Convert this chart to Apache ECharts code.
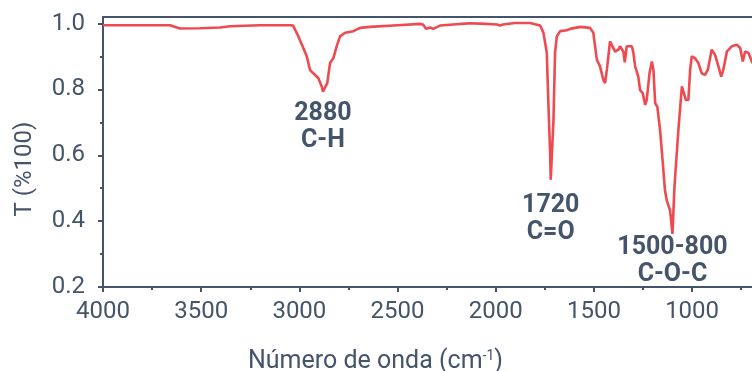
<!DOCTYPE html>
<html>
<head>
<meta charset="utf-8">
<script src="https://cdn.jsdelivr.net/npm/echarts@6/dist/echarts.min.js"></script>
<style>html,body{margin:0;padding:0;background:#fff}#c{width:752px;height:371px}</style>
</head>
<body>
<div id="c"></div>
<script>
// Wavenumber (cm-1) and transmittance
var wavenumbers = [4000,3800,3659,3608,3506,3404,3353,3200,3048,3032,3005,2980,2962,2946,2929,2903,2886,2880,2858,2844,2827,2810,2793,2767,2725,2691,2640,2500,2385,2370,2355,2334,2319,2284,2200,2156,2146,2131,2080,1993,1978,1963,1902,1825,1800,1774,1757,1740,1732,1723,1720,1706,1698,1689,1672,1638,1621,1570,1520,1503,1485,1469,1452,1443,1434,1418,1409,1392,1375,1367,1350,1343,1333,1307,1299,1290,1274,1265,1251,1239,1231,1217,1205,1197,1188,1177,1163,1149,1138,1129,1112,1100,1090,1070,1052,1044,1032,1019,1010,1002,985,968,951,934,920,900,883,866,852,841,823,798,772,755,742,730,713,696,680];
var transmittance = [0.995,0.995,0.995,0.985,0.986,0.988,0.992,0.995,0.995,0.994,0.961,0.926,0.900,0.859,0.849,0.834,0.809,0.793,0.819,0.880,0.895,0.931,0.961,0.972,0.977,0.987,0.990,0.995,0.999,0.997,0.984,0.988,0.984,0.994,0.998,1.000,1.006,1.001,1.000,0.997,0.994,0.997,1.002,1.002,0.998,0.994,0.972,0.911,0.759,0.606,0.526,0.707,0.911,0.961,0.977,0.980,0.984,0.990,0.987,0.972,0.890,0.870,0.829,0.819,0.860,0.946,0.949,0.915,0.921,0.931,0.915,0.882,0.931,0.931,0.911,0.870,0.839,0.798,0.788,0.753,0.768,0.849,0.885,0.860,0.758,0.747,0.676,0.575,0.493,0.463,0.432,0.361,0.503,0.676,0.809,0.814,0.768,0.768,0.860,0.900,0.895,0.880,0.849,0.844,0.860,0.921,0.905,0.870,0.839,0.860,0.915,0.931,0.936,0.926,0.885,0.915,0.911,0.885,0.870];

var xTickLabels = [4000,3500,3000,2500,2000,1500,1000];
var xMinorTicks = [3750,3250,2750,2250,1750,1250,750];
var yTickLabels = [0.2,0.4,0.6,0.8,1.0];
var yMinorTicks = [0.3,0.5,0.7,0.9];

var peakWavenumbers = [2880,1720,1100];
var peakValues = [0.793,0.526,0.361];
var peakTexts = ['2880\nC-H','1720\nC=O','1500-800\nC-O-C'];
var peakLabelGaps = [9,13,0];

var INK = '#44546a';
var RED = '#ee4a50';
var FONT = 'Roboto, "Noto Sans", sans-serif';

var seriesData = wavenumbers.map(function(w,i){return [w, transmittance[i]];});
var markData = peakWavenumbers.map(function(w,i){
  return {coord:[w, peakValues[i]], value:peakTexts[i],
    label:{distance:peakLabelGaps[i]}};
});

var chart = echarts.init(document.getElementById('c'), null, {renderer:'canvas'});
var xBase = {type:'value', inverse:true, min:695, max:4000, splitLine:{show:false}};
var yBase = {type:'value', min:0.2, max:1.02, splitLine:{show:false}};
chart.setOption({
  animation:false,
  backgroundColor:'#fff',
  grid:{left:103, right:0, top:17, bottom:84, containLabel:false, outerBoundsMode:'none'},
  xAxis:[
    Object.assign({}, xBase, {
      position:'bottom',
      axisLine:{show:true, lineStyle:{color:INK, width:2}},
      axisTick:{show:true, customValues:xTickLabels, length:5, inside:false, lineStyle:{color:INK, width:2}},
      axisLabel:{show:true, customValues:xTickLabels, color:INK, fontFamily:FONT, fontSize:24, margin:13,
        formatter:function(v){return String(v);}},
      name:'Número de onda (cm{s|-1})',
      nameLocation:'middle', nameGap:62,
      nameTextStyle:{color:INK, fontFamily:FONT, fontSize:25, padding:[0,104,0,0],
        rich:{s:{color:INK, fontFamily:FONT, fontSize:14, verticalAlign:'top', padding:[0,0,11,0]}}}
    }),
    Object.assign({}, xBase, {
      position:'bottom',
      axisLine:{show:false},
      axisTick:{show:true, customValues:xMinorTicks, length:3, lineStyle:{color:INK, width:2}},
      axisLabel:{show:false}
    }),
    Object.assign({}, xBase, {
      position:'top',
      axisLine:{show:true, lineStyle:{color:INK, width:2}},
      axisTick:{show:false}, axisLabel:{show:false}
    })
  ],
  yAxis:[
    Object.assign({}, yBase, {
      position:'left',
      axisLine:{show:true, lineStyle:{color:INK, width:2}},
      axisTick:{show:true, customValues:yTickLabels, length:5, lineStyle:{color:INK, width:2}},
      axisLabel:{show:true, customValues:yTickLabels, color:INK, fontFamily:FONT, fontSize:24, margin:18,
        formatter:function(v){return v.toFixed(1);}},
      name:'T (%100)', nameLocation:'middle', nameGap:66, nameRotate:90,
      nameTextStyle:{color:INK, fontFamily:FONT, fontSize:24, padding:[0,34,0,0]}
    }),
    Object.assign({}, yBase, {
      position:'left',
      axisLine:{show:false},
      axisTick:{show:true, customValues:yMinorTicks, length:3, lineStyle:{color:INK, width:2}},
      axisLabel:{show:false}
    })
  ],
  series:[{
    type:'line', xAxisIndex:0, yAxisIndex:0,
    data:seriesData, showSymbol:false, symbol:'none', clip:true,
    lineStyle:{color:RED, width:2.6}, itemStyle:{color:RED},
    markPoint:{
      symbol:'circle', symbolSize:0, silent:true,
      label:{show:true, position:'bottom', formatter:function(p){return p.value;},
        color:INK, fontFamily:FONT, fontWeight:'bold', fontSize:25, lineHeight:27, align:'center'},
      data:markData
    }
  }]
});
</script>
</body>
</html>
